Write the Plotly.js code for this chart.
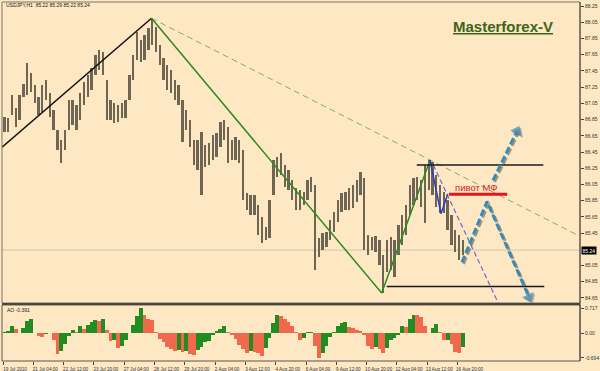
<!DOCTYPE html>
<html><head><meta charset="utf-8">
<script src="https://cdn.plot.ly/plotly-3.0.1.min.js"></script>
<style>html,body{margin:0;padding:0;background:#FDE8C3;}#chart{width:600px;height:371px;}</style>
</head><body><div id="chart"></div>
<script>
// ---- x-axis time labels (one every 32 H1 bars) ----
const timeLabels = ['19 Jul 2010','21 Jul 04:00','22 Jul 12:00','23 Jul 20:00','27 Jul 04:00','28 Jul 12:00','29 Jul 20:00','2 Aug 04:00','3 Aug 12:00','4 Aug 20:00','6 Aug 04:00','9 Aug 12:00','10 Aug 20:00','12 Aug 04:00','13 Aug 12:00','16 Aug 20:00'];
const barsPerLabel = 32;
const barsPerCandle = 4;

// ---- USDJPY price ranges (4-bar groups) ----
const priceHigh = [86.88,86.87,87.15,86.99,87.15,87.29,87.55,87.42,87.28,87.13,
87.28,87.34,87.18,86.97,86.72,86.60,86.72,87.09,87.09,87.03,
87.18,87.31,87.40,87.49,87.65,87.71,87.68,87.34,87.09,87.05,
87.03,87.05,87.09,87.40,87.65,87.93,87.83,87.89,87.98,88.09,
87.99,87.77,87.61,87.52,87.46,87.34,87.28,87.09,86.97,86.84,
86.60,86.60,86.70,86.54,86.56,86.66,86.68,86.82,86.84,86.76,
86.60,86.64,86.60,86.47,85.94,85.92,85.92,85.80,85.65,85.53,
85.86,86.35,86.39,86.44,86.29,86.23,86.10,86.01,85.98,85.96,
86.10,86.14,86.04,85.39,85.45,85.46,85.61,85.71,85.86,85.94,
85.96,86.01,86.04,86.10,86.20,86.13,85.43,85.40,85.41,85.37,
85.18,85.37,85.40,85.37,85.55,85.67,85.80,86.04,86.13,86.14,
86.10,86.29,86.35,86.33,86.17,86.04,85.96,85.86,85.67,85.49,
85.43,85.37];
const priceLow = [86.70,86.70,86.91,86.76,86.84,87.13,87.15,87.19,87.05,86.91,
86.94,87.09,86.88,86.72,86.47,86.31,86.47,86.72,86.78,86.72,
86.84,87.03,87.13,87.21,87.40,87.46,87.40,86.84,86.84,86.81,
86.82,86.87,86.87,87.09,87.34,87.58,87.56,87.58,87.71,87.77,
87.68,87.52,87.34,87.21,87.18,87.09,87.03,86.57,86.72,86.51,
86.29,86.23,85.92,86.27,86.29,86.35,86.39,86.51,86.60,86.31,
86.35,86.35,86.31,85.86,85.73,85.67,85.67,85.43,85.33,85.37,
85.39,85.92,86.14,86.17,86.02,85.98,85.86,85.73,85.73,85.80,
85.86,85.96,85.00,85.16,85.24,85.28,85.37,85.46,85.59,85.71,
85.73,85.73,85.76,85.83,85.92,85.24,85.18,85.24,85.22,85.06,
84.71,84.97,85.00,84.91,85.18,85.30,85.43,85.67,85.80,85.86,
85.77,85.57,85.98,85.92,85.77,85.70,85.70,85.49,85.30,85.22,
85.12,85.18];

// ---- Awesome Oscillator ----
const aoValues = [0.04,0.08,0.22,0.12,0.0,0.15,0.35,0.40,0.02,-0.08,
-0.10,-0.03,0.0,-0.20,-0.58,-0.50,-0.30,-0.08,0.10,0.05,
0.20,0.12,0.25,0.33,0.38,0.36,0.42,0.10,-0.22,-0.18,
-0.40,-0.35,-0.18,0.0,0.25,0.50,0.71,0.52,0.42,0.38,
0.05,-0.15,-0.25,-0.38,-0.45,-0.50,-0.47,-0.52,-0.50,-0.58,
-0.60,-0.48,-0.38,-0.25,-0.22,-0.05,0.08,0.12,0.20,0.05,
-0.05,-0.15,-0.32,-0.45,-0.55,-0.50,-0.52,-0.55,-0.63,-0.40,
-0.12,0.30,0.52,0.50,0.42,0.33,0.22,0.05,-0.20,-0.12,
0.03,0.05,-0.35,-0.69,-0.55,-0.35,-0.10,0.05,0.20,0.30,
0.33,0.18,0.15,0.10,0.08,-0.05,-0.35,-0.45,-0.38,-0.45,
-0.55,-0.40,-0.18,-0.12,-0.05,0.20,0.18,0.40,0.52,0.52,
0.45,0.20,0.0,0.15,0.26,0.05,-0.20,-0.18,-0.30,-0.52,
-0.55,-0.39];
const aoTicks = [0.717, 0, -0.694];
const aoTickText = ['0.717','0.00','-0.694'];

// ---- price axis labels ----
const priceTicks = [84.65,84.85,85.05,85.45,85.65,85.85,86.05,86.25,86.45,86.65,86.85,87.05,87.25,87.45,87.65,87.85,88.05,88.25];
const lastPrice = 85.24;

// ---- drawn objects (bar index, price) ----
const upTrendX = [-1, 156.8], upTrendY = [86.51, 88.10];
const greenZigX = [156.8, 399.9, 450.9], greenZigY = [88.10, 84.71, 86.35];
const channelX = [156.8, 609.3], channelY = [88.10, 85.41];
const blueZigX = [450.9, 462.5, 469.6], blueZigY = [86.35, 85.69, 85.93];
const purpleX = [454.4, 530.1], purpleY = [86.29, 84.41];
const resistX = [436.9, 570.6], resistY = [86.29, 86.29];
const supportX = [405.2, 571.6], supportY = [84.79, 84.79];
const pivotX = [471.0, 532.5], pivotY = [85.93, 85.93];
const pivotLabel = {x: 499.5, y: 85.93, text: 'пивот МФ'};
const arrowDownX = [484.7, 511.1, 555.4], arrowDownY = [85.09, 85.84, 84.66];
const arrowUpX = [517.4, 542.8], arrowUpY = [86.10, 86.71];

const BG = '#FDE8C3';
const candleX = priceHigh.map((_, j) => barsPerCandle * j + 1.5);
const aoColors = aoValues.map((v, j) => (j === 0 || v > aoValues[j - 1]) ? '#228B22' : '#F0694C');
// shadow offset of the hand-drawn arrows: ~1.5px right/down
const shX = 1.6, shY = -0.019;
const arrowTrace = (xs, ys, color) => ({
  type:'scatter', mode:'lines+markers', x:xs, y:ys,
  line:{color:color, width:3, dash:'7px,3px'},
  marker:{symbol:'triangle-up', size:xs.map((_, i) => i === xs.length - 1 ? 11 : 0), color:color, angleref:'previous', line:{width:0}},
  hoverinfo:'skip'});

const traces = [
  {type:'bar', x:candleX, base:priceLow, y:priceHigh.map((h, j) => h - priceLow[j]),
   xaxis:'x', yaxis:'y', width:barsPerCandle * 0.62, marker:{color:'#6E6553', line:{width:0}}, hoverinfo:'skip'},
  {type:'bar', x:candleX, y:aoValues, xaxis:'x', yaxis:'y2', width:barsPerCandle,
   marker:{color:aoColors, line:{width:0}}, hoverinfo:'skip'},
  {type:'scatter', mode:'lines', x:channelX, y:channelY, line:{color:'#86AD66', width:1, dash:'6px,4px'}, hoverinfo:'skip'},
  {type:'scatter', mode:'lines', x:upTrendX, y:upTrendY, line:{color:'#111111', width:1.5}, hoverinfo:'skip'},
  {type:'scatter', mode:'lines', x:greenZigX, y:greenZigY, line:{color:'#2F8A22', width:1.5}, hoverinfo:'skip'},
  {type:'scatter', mode:'lines', x:purpleX, y:purpleY, line:{color:'#7466D4', width:1.2, dash:'5px,3px'}, hoverinfo:'skip'},
  {type:'scatter', mode:'lines', x:blueZigX, y:blueZigY, line:{color:'#2B3CC8', width:1.5}, hoverinfo:'skip'},
  {type:'scatter', mode:'lines', x:resistX, y:resistY, line:{color:'#1A1A1A', width:1.5}, hoverinfo:'skip'},
  {type:'scatter', mode:'lines', x:supportX, y:supportY, line:{color:'#1A1A1A', width:1.5}, hoverinfo:'skip'},
  {type:'scatter', mode:'lines', x:pivotX, y:pivotY, line:{color:'#E3161B', width:3}, hoverinfo:'skip'},
  arrowTrace(arrowDownX.map(v => v + shX), arrowDownY.map(v => v + shY), 'rgba(45,45,45,0.45)'),
  arrowTrace(arrowUpX.map(v => v + shX), arrowUpY.map(v => v + shY), 'rgba(45,45,45,0.45)'),
  arrowTrace(arrowDownX, arrowDownY, '#3A8CB8'),
  arrowTrace(arrowUpX, arrowUpY, '#3A8CB8')
];

const tickFont = {family:'Liberation Sans, Arial, sans-serif', size:5, color:'#333333'};
const mainDom = [0.1616, 1], aoDom = [0, 0.156];

const layout = {
  width:600, height:371,
  margin:{l:2, r:20, t:2, b:10, pad:0},
  paper_bgcolor:BG, plot_bgcolor:BG,
  showlegend:false, bargap:0, barmode:'overlay',
  xaxis:{domain:[0,1], anchor:'y2', range:[-1.06, 609.3], fixedrange:true,
    tickvals:timeLabels.map((_, i) => i * barsPerLabel), ticktext:timeLabels,
    ticks:'outside', ticklen:3, tickcolor:'#444', tickfont:{...tickFont, size:4.6},
    ticklabelshift:12, showgrid:false, zeroline:false, showline:false},
  yaxis:{domain:mainDom, anchor:'x', side:'right', range:[84.588, 88.30], fixedrange:true,
    tickvals:priceTicks, ticktext:priceTicks.map(v => v.toFixed(2)),
    ticks:'outside', ticklen:3, tickcolor:'#444', tickfont:tickFont,
    showgrid:false, zeroline:false, showline:false},
  yaxis2:{domain:aoDom, anchor:'x', side:'right', range:[-0.779, 0.802], fixedrange:true,
    tickvals:aoTicks, ticktext:aoTickText,
    ticks:'outside', ticklen:3, tickcolor:'#444', tickfont:tickFont,
    showgrid:false, zeroline:false, showline:false},
  shapes:[
    {type:'line', xref:'paper', yref:'y', x0:0, x1:1, y0:lastPrice, y1:lastPrice, line:{color:'#CFC6B4', width:1}, layer:'below'},
    {type:'rect', xref:'paper', yref:'paper', x0:0, x1:1, y0:mainDom[0], y1:1, line:{color:'#7A7468', width:1}},
    {type:'rect', xref:'paper', yref:'paper', x0:0, x1:1, y0:0, y1:aoDom[1], line:{color:'#5A554C', width:1}},
    {type:'line', xref:'paper', yref:'paper', x0:0, x1:1, y0:(mainDom[0]+aoDom[1])/2, y1:(mainDom[0]+aoDom[1])/2, line:{color:'#4A463F', width:2}},
    {type:'line', xref:'paper', yref:'paper', x0:1, x1:1, y0:0, y1:1, line:{color:'#4A463F', width:1}}
  ],
  annotations:[
    {xref:'paper', yref:'paper', x:0.0035, y:0.9916, xanchor:'left', yanchor:'middle', showarrow:false,
     text:'USDJPY,H1  85.22 85.29 85.22 85.24', font:{family:'Liberation Sans, Arial, sans-serif', size:5, color:'#222'}},
    {xref:'paper', yref:'paper', x:0.005, y:0.142, xanchor:'left', yanchor:'middle', showarrow:false,
     text:'AO -0.391', font:{family:'Liberation Sans, Arial, sans-serif', size:5, color:'#222'}},
    {xref:'paper', yref:'paper', x:0.866, y:0.932, xanchor:'center', yanchor:'middle', showarrow:false,
     text:'<b><u>Masterforex-V</u></b>', font:{family:'Liberation Sans, Arial, sans-serif', size:15, color:'#3B661C'}},
    {xref:'x', yref:'y', x:pivotLabel.x, y:pivotLabel.y, xanchor:'center', yanchor:'bottom', yshift:0, borderpad:0, showarrow:false,
     text:pivotLabel.text, font:{family:'Liberation Sans, Arial, sans-serif', size:9.5, color:'#E0201E'}},
    {xref:'paper', yref:'y', x:1, y:lastPrice, xanchor:'left', yanchor:'middle', xshift:1, showarrow:false,
     text:lastPrice.toFixed(2), bgcolor:'#000000', borderpad:0.5, font:{family:'Liberation Sans, Arial, sans-serif', size:5, color:'#FFFFFF'}}
  ]
};

Plotly.newPlot('chart', traces, layout, {staticPlot:true, displayModeBar:false});
</script>
</body></html>
